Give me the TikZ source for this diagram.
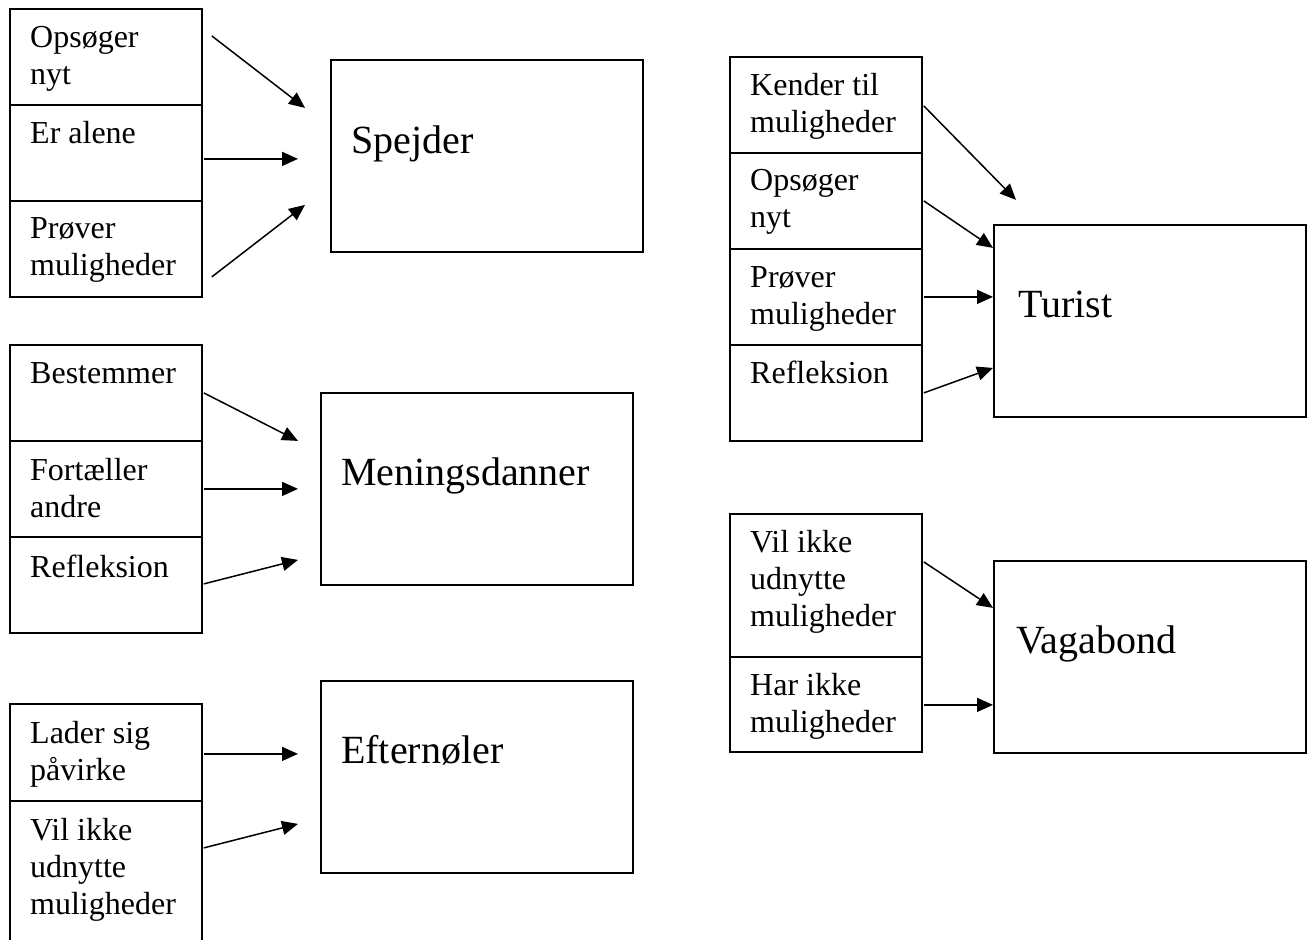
\documentclass[tikz,border=0pt]{standalone}
\usepackage{fontspec}
\setmainfont{Liberation Serif}
\usetikzlibrary{arrows.meta}
\begin{document}
\begin{tikzpicture}[x=1pt,y=-1pt,
  cell/.style={draw,line width=1.8pt,minimum width=192pt,inner sep=0pt,anchor=north west},
  bigbox/.style={draw,line width=1.8pt,minimum width=312pt,minimum height=192pt,inner sep=0pt,anchor=north west},
  ctext/.style={anchor=north west,inner sep=0pt,align=left,font=\fontsize{32}{37}\selectfont},
  btext/.style={anchor=base west,inner sep=0pt,font=\fontsize{40}{46}\selectfont},
  arr/.style={line width=1.5pt,-{Triangle[length=16pt,width=14pt]}}]
\useasboundingbox (0,0) rectangle (1307,940);
\begin{scope}
\clip (0,0) rectangle (1307,940);
% left stack 1
\node[cell,minimum height=96pt] (s1a) at (9,8) {};
\node[cell,minimum height=96pt] (s1b) at (9,104) {};
\node[cell,minimum height=96pt] (s1c) at (9,200) {};
% left stack 2
\node[cell,minimum height=96pt] (s2a) at (9,344) {};
\node[cell,minimum height=96pt] (s2b) at (9,440) {};
\node[cell,minimum height=96pt] (s2c) at (9,536) {};
% left stack 3
\node[cell,minimum height=97pt] (s3a) at (9,703) {};
\node[cell,minimum height=143pt] (s3b) at (9,800) {};
% right stack 4
\node[cell,minimum height=96pt] (s4a) at (729,56) {};
\node[cell,minimum height=96pt] (s4b) at (729,152) {};
\node[cell,minimum height=96pt] (s4c) at (729,248) {};
\node[cell,minimum height=96pt] (s4d) at (729,344) {};
% right stack 5
\node[cell,minimum height=143pt] (s5a) at (729,513) {};
\node[cell,minimum height=95pt] (s5b) at (729,656) {};
\end{scope}
% big boxes
\node[bigbox] (spejder) at (330,59) {};
\node[bigbox] (mening) at (320,392) {};
\node[bigbox] (efter) at (320,680) {};
\node[bigbox] (turist) at (993,224) {};
\node[bigbox] (vaga) at (993,560) {};
% big texts
\node[btext] (tspejder) at (351,153) {Spejder};
\node[btext] (tmening) at (341,485) {Meningsdanner};
\node[btext] (tefter) at (341,763) {Efternøler};
\node[btext] (tturist) at (1018,317) {Turist};
\node[btext] (tvaga) at (1016,653) {Vagabond};
% cell texts
\node[ctext] (t1a) at (30,21) {\strut Opsøger\\nyt};
\node[ctext] (t1b) at (30,117) {\strut Er alene};
\node[ctext] (t1c) at (30,212) {\strut Prøver\\muligheder};
\node[ctext] (t2a) at (30,357) {\strut Bestemmer};
\node[ctext] (t2b) at (30,454) {\strut Fortæller\\andre};
\node[ctext] (t2c) at (30,551) {\strut Refleksion};
\node[ctext] (t3a) at (30,717) {\strut Lader sig\\påvirke};
\node[ctext] (t3b) at (30,814) {\strut Vil ikke\\udnytte\\muligheder};
\node[ctext] (t4a) at (750,69) {\strut Kender til\\muligheder};
\node[ctext] (t4b) at (750,164) {\strut Opsøger\\nyt};
\node[ctext] (t4c) at (750,261) {\strut Prøver\\muligheder};
\node[ctext] (t4d) at (750,357) {\strut Refleksion};
\node[ctext] (t5a) at (750,526) {\strut Vil ikke\\udnytte\\muligheder};
\node[ctext] (t5b) at (750,669) {\strut Har ikke\\muligheder};
% arrows
\draw[arr] ([shift={(9,-21)}]s1a.east) -- ([shift={(-25,-48)}]spejder.west);
\draw[arr] ([shift={(1,6)}]s1b.east) -- ([shift={(-32,3)}]spejder.west);
\draw[arr] ([shift={(9,28)}]s1c.east) -- ([shift={(-25,49)}]spejder.west);
\draw[arr] ([shift={(1,0)}]s2a.east) -- ([shift={(-22,-48)}]mening.west);
\draw[arr] ([shift={(1,0)}]s2b.east) -- ([shift={(-22,0)}]mening.west);
\draw[arr] ([shift={(1,-1)}]s2c.east) -- ([shift={(-22,71)}]mening.west);
\draw[arr] ([shift={(1,1.5)}]s3a.east) -- ([shift={(-22,-23)}]efter.west);
\draw[arr] ([shift={(1,-24.5)}]s3b.east) -- ([shift={(-22,47)}]efter.west);
\draw[arr] ([shift={(1,1)}]s4a.east) -- ([shift={(23,-121)}]turist.west);
\draw[arr] ([shift={(1,0)}]s4b.east) -- ([shift={(0,-73)}]turist.west);
\draw[arr] ([shift={(1,0)}]s4c.east) -- ([shift={(0,-24)}]turist.west);
\draw[arr] ([shift={(1,0)}]s4d.east) -- ([shift={(0,47)}]turist.west);
\draw[arr] ([shift={(1,-23.5)}]s5a.east) -- ([shift={(0,-49)}]vaga.west);
\draw[arr] ([shift={(1,0.5)}]s5b.east) -- ([shift={(0,48)}]vaga.west);
\end{tikzpicture}
\end{document}
